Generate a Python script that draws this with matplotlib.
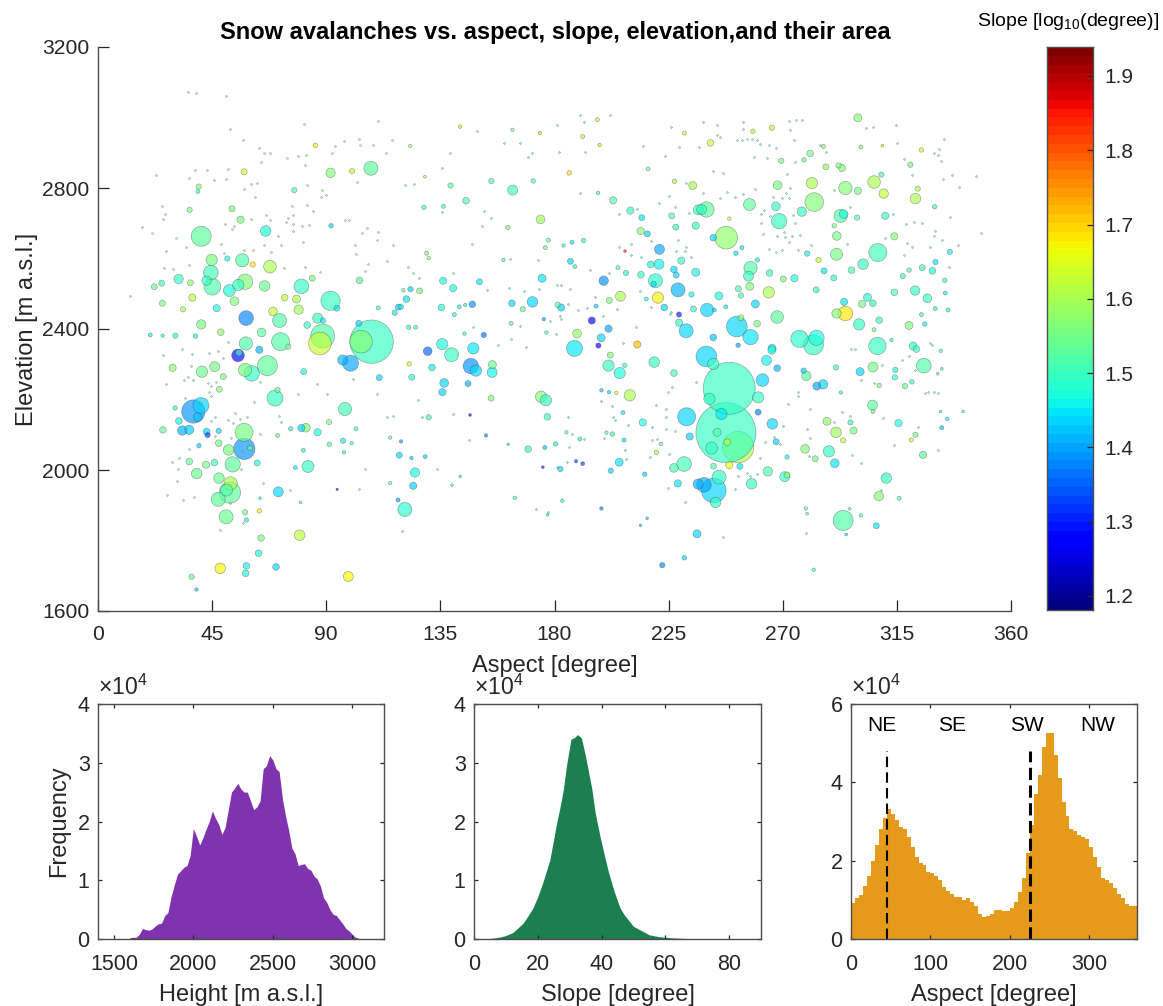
import numpy as np
import matplotlib
matplotlib.use('Agg')
import matplotlib.pyplot as plt

plt.rcParams['font.family'] = ['Liberation Sans', 'DejaVu Sans']
plt.rcParams['mathtext.fontset'] = 'custom'
plt.rcParams['mathtext.rm'] = 'Liberation Sans'
plt.rcParams['mathtext.default'] = 'regular'

# bubbles, aspect [deg], elevation [m], log10 slope, area (arbitrary units)
west_top_aspect = [40.7,107.6,91.7,66.1,80.2,67.8,56.9,44.8,44.5,42.8,
    45.1,58,55.3,51.8,65.7,31.8,91.7,58.4,71.6,79.1,
    69,53.8,40.7,72,88.6,87.5,107.9,103.7,86.6,58.3,
    64.5,82.5,78.3,84.5,103.1,57.6,85.7,100.2,36.1,52.8,
    56.2,39.7,39.4,77.4,91.9,61,51,46.8,37.2,25.4,
    22.2,25.1,36.4,33.5,73.6,48.4,94.2,88.7,118.4,117,
    110.5,102.8,30.5,20.6,25.5,38.4,75]
west_top_elev = [2663,2856,2843,2678,2521,2577,2595,2596,2560,2537,
    2520,2534,2525,2509,2522,2542,2480,2431,2424,2455,
    2450,2479,2413,2364,2380,2359,2364,2364,2431,2359,
    2390,2411,2485,2544,2538,2846,2921,2848,2738,2741,
    2710,2804,2790,2794,2693,2583,2600,2459,2489,2473,
    2520,2530,2531,2456,2489,2391,2459,2424,2462,2446,
    2460,2416,2381,2383,2381,2380,2350]
west_top_slope = [1.53,1.53,1.57,1.47,1.50,1.60,1.52,1.55,1.51,1.49,
    1.52,1.57,1.50,1.47,1.54,1.49,1.49,1.38,1.52,1.59,
    1.62,1.56,1.55,1.52,1.52,1.63,1.50,1.56,1.49,1.52,
    1.53,1.49,1.60,1.55,1.53,1.62,1.68,1.65,1.55,1.57,
    1.55,1.58,1.48,1.52,1.44,1.68,1.47,1.47,1.61,1.55,
    1.54,1.51,1.58,1.60,1.62,1.58,1.45,1.45,1.44,1.46,
    1.50,1.43,1.50,1.46,1.47,1.47,1.55]
west_top_area = [100,49,22,28,54,40,44,32,54,22,
    70,59,32,36,28,22,93,54,49,22,
    19,19,22,81,144,128,470,128,25,44,
    19,11,16,9,11,9,5,7,7,9,
    13,7,4,7,5,7,7,13,13,9,
    9,9,9,7,11,11,9,7,9,7,
    4,9,7,4,3,5,7]

west_low_aspect = [55.2,55.6,63.6,66.8,60.6,58,46,41,29.4,47.8,
    49.4,69.8,70.8,81.1,99.6,96.5,110.9,97.4,37.6,40.6,
    39.3,31.9,30.4,33.2,35.9,25.6,42.8,43.2,47.6,57.6,
    57.7,60,51.5,47.6,39.8,36,42.6,45.9,53.1,62.8,
    38.9,47.7,52.3,52,50.7,47.4,50.5,71.1,58,63.6,
    58.5,64.3,79.5,63.3,48.2,58.5,58.2,70.2,36.9,38.8,
    98.7,82.8,77.8,80.2,82,86.6,76,91.1,91.2,96.6,
    100,101.7,70.8,81,97,118.8,94.3,63.9,79.9,115.2,
    115.2,118.3]
west_low_elev = [2325,2333,2341,2296,2274,2284,2293,2279,2290,2229,
    2265,2204,2227,2279,2303,2312,2262,2173,2166,2183,
    2150,2139,2176,2112,2114,2114,2109,2099,2111,2107,
    2060,2062,2057,2076,2069,2024,2015,2021,2016,2020,
    1990,1977,1962,1936,1943,1917,1867,1938,1880,1884,
    1858,1807,1815,1764,1721,1728,1707,1725,1697,1661,
    1698,2010,2007,2119,2120,2107,2117,2136,2073,2083,
    2076,2117,2098,2056,2050,2042,1945,1920,1908,2092,
    1963,1915]
west_low_slope = [1.27,1.50,1.41,1.53,1.49,1.55,1.55,1.54,1.58,1.57,
    1.55,1.49,1.55,1.47,1.40,1.41,1.44,1.51,1.39,1.43,
    1.42,1.46,1.49,1.41,1.42,1.54,1.43,1.33,1.44,1.55,
    1.39,1.55,1.55,1.55,1.43,1.54,1.55,1.51,1.53,1.47,
    1.54,1.54,1.60,1.53,1.52,1.53,1.54,1.43,1.55,1.67,
    1.47,1.55,1.62,1.47,1.67,1.46,1.47,1.43,1.54,1.42,
    1.67,1.49,1.46,1.43,1.56,1.47,1.50,1.56,1.53,1.46,
    1.50,1.50,1.54,1.48,1.48,1.44,1.22,1.46,1.55,1.53,
    1.52,1.40]
west_low_area = [40,11,13,100,59,44,25,32,13,9,
    9,64,7,9,64,25,9,44,136,64,
    19,11,5,22,22,11,11,7,7,81,
    114,7,28,11,5,11,13,11,59,9,
    28,28,44,114,36,49,49,25,7,5,
    5,11,28,11,28,11,11,11,7,3,
    25,36,4,13,19,13,5,7,5,7,
    3,4,4,4,3,9,1.5,2,2,3,
    3,4]

mid_top_aspect = [228.7,231.9,220.8,206,219.8,219.1,199.4,221.2,221.4,171.3,
    175.1,136.1,140,150.4,147.6,163.2,135.4,121.6,119.4,126.8,
    182.6,181.2,167.5,163.5,174.5,145.1,203.1,155.1,171.6,139,
    128.5,136.2,161.6,209.9,214.4,214,216.6,185.8,216.9,234.5,
    227.3,236.7,226.2,227.8,235.7,230,235.7,217.9,214.1,227.1,
    228,186.3,188,208.2,194.7,201.3,229.1,223.3,234,188.9,
    198.4,212.6,197.3,187.9,229.1,234.8,207.8,205,201.6,196.4,
    216.2,152.1,144.5,162.9,122.5,125.2,176.8,175.8,142.8,163.4,
    174.2,196.9,191.1,197.8,123.1,231.2,128.9,197.2,191.5,186.9,
    177.6,176.4,183.6,129.6,130.4,159.9,123.2,120.4,142.4,140.5,
    144.8]
mid_top_elev = [2511,2395,2489,2493,2537,2528,2537,2584,2626,2477,
    2544,2537,2516,2534,2470,2473,2461,2485,2463,2508,
    2461,2469,2456,2794,2711,2764,2765,2820,2820,2807,
    2745,2748,2688,2736,2716,2678,2670,2843,2854,2807,
    2819,2738,2721,2689,2693,2594,2561,2583,2554,2569,
    2553,2592,2577,2559,2424,2401,2441,2461,2498,2387,
    2375,2356,2353,2345,2418,2457,2621,2574,2481,2465,
    2485,2383,2387,2416,2405,2405,2390,2428,2974,2965,
    2956,2994,2946,2922,2919,2956,2832,2786,2651,2646,
    2652,2631,2637,2615,2601,2596,2513,2510,2463,2441,
    2468]
mid_top_slope = [1.41,1.44,1.67,1.60,1.48,1.44,1.39,1.46,1.40,1.44,
    1.45,1.47,1.47,1.45,1.39,1.43,1.47,1.45,1.45,1.55,
    1.43,1.53,1.54,1.51,1.59,1.52,1.52,1.52,1.52,1.53,
    1.50,1.50,1.55,1.50,1.45,1.57,1.43,1.69,1.55,1.60,
    1.60,1.50,1.53,1.49,1.50,1.50,1.46,1.47,1.50,1.44,
    1.44,1.44,1.49,1.48,1.27,1.40,1.30,1.43,1.46,1.58,
    1.44,1.72,1.27,1.45,1.50,1.50,1.85,1.52,1.57,1.44,
    1.47,1.37,1.48,1.55,1.48,1.50,1.50,1.40,1.68,1.55,
    1.70,1.60,1.63,1.68,1.58,1.62,1.60,1.50,1.50,1.45,
    1.53,1.55,1.50,1.55,1.55,1.53,1.44,1.53,1.47,1.47,
    1.50]
mid_top_area = [49,49,32,25,49,7,22,25,25,28,
    16,13,13,9,11,11,11,11,7,9,
    13,7,7,25,19,11,13,7,5,7,
    5,4,5,13,9,13,9,5,4,16,
    5,25,9,9,13,13,16,11,11,11,
    9,9,4,7,13,13,7,11,7,19,
    16,13,7,64,13,9,2,4,9,4,
    4,7,3,4,5,4,3,3,3,3,
    3,4,4,3,3,4,2,3,5,4,
    4,4,3,4,3,3,7,3,4,4,
    3]

mid_low_aspect = [147,149,148,139.4,135.7,130,131.7,136.5,135.8,155.5,
    155.4,145.9,155,123.7,122.7,130.4,174.7,176.6,177.2,169.6,
    121,125,124.3,129,123.6,201.3,205.7,219.3,209.7,202,
    207.7,227.1,198.5,201.5,204.4,207,214.8,232.1,233.3,231.1,
    227.1,205.5,202.2,215.6,228.6,236.6,236.2,222.5,231.2,198.5,
    216.5,213.9,177.3,183.1,164.3,139.6,142.8,182.3,176.2,180.4,
    191.1,188.5,175.4,153,146.7,161.7,202.8,200.5,190,184.7,
    220.2,221.9,207.4,119.5]
mid_low_elev = [2295,2282,2345,2327,2357,2337,2291,2247,2221,2299,
    2277,2245,2204,2263,2301,2150,2208,2198,2151,2059,
    1888,1993,1955,2038,2034,2296,2275,2306,2212,2326,
    2297,2275,2226,2221,2219,2163,2135,2151,2095,2017,
    2006,2022,1998,1988,1962,1960,1819,1730,1751,1891,
    1863,1843,1873,1913,1921,1957,1982,2003,2064,2074,
    2018,2025,2008,2098,2156,2073,2102,2106,2088,2107,
    2050,2074,2085,2081]
mid_low_slope = [1.39,1.44,1.45,1.49,1.47,1.35,1.46,1.44,1.44,1.54,
    1.46,1.41,1.56,1.48,1.65,1.51,1.56,1.50,1.49,1.49,
    1.48,1.47,1.43,1.44,1.44,1.50,1.47,1.50,1.60,1.57,
    1.50,1.49,1.42,1.44,1.62,1.46,1.47,1.44,1.43,1.51,
    1.51,1.45,1.43,1.43,1.45,1.41,1.44,1.38,1.43,1.38,
    1.43,1.40,1.47,1.48,1.50,1.52,1.45,1.44,1.42,1.47,
    1.33,1.33,1.30,1.39,1.27,1.44,1.49,1.52,1.48,1.52,
    1.60,1.54,1.44,1.40]
mid_low_area = [59,32,32,49,32,19,11,19,13,16,
    25,9,9,9,5,7,32,32,11,11,
    49,22,13,4,3,32,32,28,32,9,
    5,11,3,3,3,4,13,81,13,54,
    19,16,7,5,13,25,16,7,5,3,
    2,1.5,2,3,3,2,1.5,7,4,5,
    4,3,2,3,2,1.5,5,3,4,3,
    5,3,4,3]

east_top_aspect = [247.7,239.9,238,282.4,268.6,256.9,268,281.5,267.3,277.5,
    292.8,294,294.7,306,299.6,309.8,322.3,307.5,291.2,301.7,
    291.3,314,310.4,299.6,287,293.3,292,280.8,278.4,269.4,
    265.7,258.2,241.5,286,300.8,320.3,323.2,308.9,324.7,309.3,
    257.3,256.5,257,264.5,264.8,259.2,240.2,244.8,251.9,257.3,
    267.8,259.9,276.6,283.3,282.1,294.7,291.2,300.1,294.2,308,
    319.8,307.3,322.2,327,303.4,305.5,301.3,314,274.6,283.2,
    270.2,286.3,290.1,297.1,284.1,279.6,335.9,330.2,325,329,
    333.9,317.3,319.8,334.1,329.9,299.3,290.3,248.9,242.6,251.5,
    253.9,260,252.5,253.5,243,247.5,253.5,242.6,252.4,265.8,
    335.2,330.1,324.7,326,321.4,312.9,306]
east_top_elev = [2659,2739,2739,2760,2706,2753,2808,2814,2748,2733,
    2721,2726,2800,2817,2792,2784,2770,2617,2612,2584,
    2664,2663,2721,2999,2860,2857,2864,2898,2880,2877,
    2971,2961,2928,2918,2916,2866,2798,2838,2908,2920,
    2573,2550,2521,2504,2559,2471,2454,2494,2407,2377,
    2434,2415,2372,2375,2355,2444,2444,2413,2477,2425,
    2410,2352,2509,2487,2490,2473,2471,2504,2544,2511,
    2542,2565,2545,2567,2596,2614,2619,2590,2574,2565,
    2538,2550,2567,2502,2747,2716,2693,2713,2659,2615,
    2631,2596,2514,2495,2454,2463,2432,2376,2354,2345,
    2454,2458,2441,2414,2352,2369,2398]
east_top_slope = [1.58,1.53,1.50,1.56,1.50,1.53,1.55,1.60,1.50,1.49,
    1.52,1.47,1.56,1.60,1.55,1.62,1.60,1.51,1.55,1.50,
    1.55,1.56,1.50,1.56,1.58,1.57,1.56,1.55,1.55,1.55,
    1.62,1.62,1.62,1.58,1.55,1.55,1.60,1.52,1.63,1.68,
    1.52,1.49,1.56,1.60,1.50,1.44,1.43,1.47,1.44,1.45,
    1.53,1.55,1.48,1.47,1.49,1.68,1.56,1.50,1.45,1.50,
    1.57,1.50,1.49,1.50,1.48,1.50,1.55,1.52,1.47,1.50,
    1.56,1.45,1.48,1.52,1.63,1.46,1.46,1.45,1.49,1.47,
    1.49,1.50,1.52,1.46,1.50,1.52,1.55,1.62,1.44,1.45,
    1.45,1.47,1.52,1.52,1.44,1.45,1.57,1.42,1.40,1.45,
    1.47,1.48,1.50,1.46,1.48,1.47,1.55]
east_top_area = [128,59,25,87,59,36,19,32,19,22,
    44,19,44,40,13,22,28,81,36,28,
    19,13,13,16,9,13,7,11,5,7,
    7,5,11,4,4,7,7,7,5,2,
    44,25,16,32,11,16,44,16,107,59,
    40,11,75,59,100,54,22,32,13,11,
    16,75,22,19,16,11,13,11,13,9,
    9,9,9,11,7,7,7,7,9,11,
    5,7,5,4,5,7,5,3,11,5,
    4,5,9,7,4,4,9,11,5,16,
    4,4,4,5,16,3,4]

east_low_aspect = [248.9,247.6,252.4,241.9,245.8,244.1,248.1,241.1,260.3,262,
    242.6,239.9,263.6,265.7,267.8,260.3,265.9,267.4,279.3,278.2,
    285.9,283.4,292.9,291,300.5,305.6,325.6,322.7,314.2,314.4,
    318.2,320.9,308,305.4,305.6,315.6,296.7,287.4,291,297.9,
    293.8,278.8,288.2,282.8,290.5,271.7,264.1,270.8,271.7,257.7,
    244.9,242.8,238.9,243.5,253.1,248.9,242.7,325.3,310.8,307.9,
    293.8,306.9,315.9,322.3,320.7,332.7,334.9,341.1,332.2,282.2,
    295,300.8,279.1,279.6,296.4,332.3,332.7,331.1]
east_low_elev = [2232,2106,2065,2062,2159,2107,2079,2202,2206,2255,
    2301,2322,2311,2340,2289,2164,2131,2080,2267,2282,
    2243,2238,2220,2291,2279,2292,2296,2343,2263,2284,
    2238,2250,2240,2184,2166,2133,2135,2138,2107,2112,
    2084,2060,2053,2032,2019,2037,1996,1981,1986,1961,
    1980,1942,1958,1908,2010,2014,2011,2043,1977,1926,
    1857,1842,1920,2100,2085,2120,2145,2166,2166,1717,
    1817,1871,1891,1876,1890,2338,2287,2273]
east_low_slope = [1.50,1.50,1.60,1.50,1.45,1.52,1.62,1.50,1.49,1.44,
    1.50,1.43,1.46,1.47,1.41,1.38,1.43,1.44,1.53,1.44,
    1.44,1.40,1.47,1.50,1.43,1.55,1.52,1.50,1.48,1.47,
    1.54,1.50,1.55,1.53,1.54,1.47,1.49,1.58,1.59,1.55,
    1.62,1.57,1.50,1.55,1.45,1.47,1.52,1.49,1.56,1.50,
    1.50,1.44,1.40,1.50,1.45,1.66,1.52,1.53,1.49,1.57,
    1.52,1.45,1.52,1.55,1.62,1.42,1.46,1.50,1.50,1.48,
    1.43,1.50,1.54,1.53,1.55,1.52,1.50,1.52]
east_low_area = [676,900,245,36,32,16,11,32,32,40,
    32,107,25,16,11,9,28,9,22,7,
    22,16,3,7,16,25,54,11,7,7,
    7,5,5,25,4,13,7,16,28,13,
    7,19,32,9,19,5,22,25,9,28,
    49,152,54,28,9,13,9,13,28,22,
    100,9,4,7,4,4,3,2,2,3,
    2,3,3,2,2,3,2,2]

# very small bubbles, one typical slope per part of the chart
tiny_slope = [1.57, 1.54, 1.50, 1.48, 1.53, 1.52]
tiny_aspect = [
    [38.8,50.5,35.4,81.3,110.4,52,57.2,63.5,65.3,67.7,64.4,79,81.9,74.6,92.3,93.3,97,102.8,103.3,108.4,
     115.8,113.5,38.1,42.8,51.4,35.7,45.6,50.3,22.7,57.7,60.5,62.7,61.9,88.2,82.5,88,89.8,102.1,81.6,76.6,
     82.4,84.9,66.2,25.5,26.3,25.4,17.2,21.2,30.8,34.8,27,50.1,52.7,53.8,60.2,68,74.8,77,74.2,76.9,
     80.3,83.2,97.4,99,104,106.2,110.2,110.5,101.3,116.3,80.7,77,71.1,72.3,68.3,61.2,57.4,49.8,48.5,65.4,
     101.6,106.3,113.8,105.3,87.5,81.6,73.3,36,29.7,26.1,12.6],
    [25.8,33,37,43.8,47.4,49.4,51.4,36.5,35.4,37.3,34,26.8,43.5,46.5,44.4,43.8,44.5,34.2,40.2,53.9,
     58.9,56,51.4,53.2,46.1,44.5,63.9,46.1,52.3,56.8,35.7,32.1,29.2,31.5,31,27.2,33.5,37.8,56.4,65,
     75.7,52.2,57.3,48.1,72,71.4,78.7,90.4,86.2,61.5,63.9,100.6,110.1,114,116.4,105.2,102.8],
    [149.5,160,166.3,138.7,135.6,121.2,124.7,169.5,171.2,181.8,192.2,190,214.9,223.6,228.9,236.9,226.1,191.7,190.1,202,
     181,155,152.2,151.5,147.5,135.6,205.6,221.2,227.4,225.2,233.1,232,212.6,218.2,228.7,210.1,205.6,210.3,214.3,228.1,
     231.7,234,231.6,173.5,162.5,124.4,139.9,126.6,122.3,162,167.9,153.2,180.8,182.5,186.1,173.8,193.9,201.4,196,185.4,
     189.3,193,182.2,182.7,178.1,199,166.2,148,204.7,213.6,218.1,226.1,225.7,212,207,180.6,157.8,168.7,163],
    [126.1,139.8,146.3,133.5,127.7,172.6,177.3,119.9,184.8,181,185.8,187,185.4,191.7,199.4,198.2,202.7,203.1,203.8,209.1,
     218.3,220.3,217.8,218.6,224.1,227.4,223.9,224.1,219.9,224.8,226.4,235.6,231.6,224.9,207.8,208,225],
    [238.4,244.1,254.4,254.5,272.4,275.1,277.6,273,244,245.4,252,254.1,255.8,257.8,259.9,261.2,264.6,267.4,274.5,284.7,
     287.1,303,305.4,314.8,315.1,333.6,331.6,329.7,331.3,332.4,318,321,336.8,346.2,339.5,333.1,258.6,263.7,274.9,271.7,
     242.6,246.5,290.3,259.2,248,251,254.5,245.2,238.6,266.2,269.9,271.2,272.8,272.4,262.5,261.5,261.3,265,275,274.2,
     262.3,267.7,270.5,270.8,273.8,276.7,281.2,272.4,264.6,267.3,269.9,276.2,296.7,313.5,318.5,321.8,325.1,335.8,329.9,329.5,
     332.8,328,319,320.9,310.2,295.4,348.1,339.1,317.7,335.6],
    [276.2,276.1,271.9,280.7,279.6,280.9,280.4,297.2,301,293.4,309.7,323.2,313.8,331.1,308.8,279.3,246.5,252.4,251.2,256.1,
     257,259.9,263,261.2,269.1,266.7,270,300.8,305.9,326.1,327.2,329.7,331.3,317,319.8,328,329,298.4,296.8,309.3,
     322.3,296.6,290.4],
]
tiny_elev = [
    [3070,3062,3073,2981,2991,2966,2935,2913,2899,2900,2874,2890,2894,2884,2898,2919,2934,2938,2921,2921,
     2935,2898,2850,2850,2853,2829,2824,2826,2837,2796,2811,2813,2774,2794,2808,2775,2779,2816,2865,2749,
     2752,2736,2722,2711,2725,2749,2688,2671,2657,2634,2621,2698,2684,2693,2711,2709,2716,2724,2704,2698,
     2691,2695,2709,2709,2672,2686,2653,2676,2638,2637,2648,2678,2665,2637,2618,2625,2624,2617,2641,2639,
     2613,2585,2593,2564,2563,2577,2572,2582,2569,2573,2494],
    [2326,2343,2329,2333,2339,2317,2364,2295,2265,2256,2256,2243,2248,2249,2237,2222,2211,2205,2189,2162,
     2150,2146,2142,2134,2150,2140,2101,2097,2090,2055,2059,2033,2023,2002,1969,1930,1914,1924,2002,1962,
     1943,1906,1851,1829,2137,2154,2216,2215,2244,2192,2251,2258,2215,2150,2154,2002,1945],
    [2961,2929,2927,2898,2858,2808,2810,2889,2898,2902,2903,2785,2920,2891,2917,2917,2972,2986,3006,3007,
     2979,2716,2736,2691,2642,2733,2725,2758,2747,2778,2728,2815,2741,2650,2652,2640,2634,2610,2603,2621,
     2634,2603,2620,2596,2599,2560,2558,2546,2577,2516,2509,2511,2525,2524,2513,2513,2568,2558,2492,2471,
     2454,2460,2437,2427,2424,2437,2409,2407,2458,2507,2463,2449,2442,2405,2361,2386,2354,2348,2371],
    [2198,2158,2085,2004,2149,1889,1882,1828,2024,2009,2064,2101,2151,2089,2090,2197,2182,2151,2142,2127,
     2085,2089,2038,2121,2116,2112,2151,2173,2185,2221,2235,2250,1910,1948,2057,2031,2046],
    [2988,2979,2988,2967,2990,2992,2994,2965,2950,2945,2936,2936,2939,2938,2937,2926,2922,2914,2937,2922,
     2902,2970,2974,2978,2928,2939,2911,2899,2894,2878,2882,2838,2837,2833,2803,2826,2889,2886,2875,2839,
     2849,2843,2794,2796,2788,2775,2782,2772,2785,2775,2773,2786,2799,2773,2739,2725,2702,2721,2700,2723,
     2669,2665,2675,2662,2665,2666,2638,2648,2626,2619,2624,2624,2747,2725,2698,2703,2702,2719,2678,2665,
     2652,2632,2645,2632,2657,2642,2673,2637,2610,2577],
    [2221,2211,2187,2172,2116,2092,2040,2042,2021,2165,2147,2123,2071,2058,1944,1821,1809,1984,1946,1991,
     1983,1989,2080,2034,2074,2095,2124,2256,2248,2218,2221,2221,2219,2312,2324,2361,2354,2343,2344,2298,
     2284,2152,2136],
]

# histograms, counts in units of 1e4
height_bins = np.arange(1600, 3080, 20)
height_counts = [.02,.03,.03,.08,.18,.16,.15,.17,.22,.26,.27,.40,.45,.72,.92,1.10,1.16,1.22,1.25,1.42,
    1.88,1.75,1.60,1.72,1.87,2.0,2.18,2.05,1.95,1.78,1.9,2.2,2.5,2.57,2.65,2.55,2.5,2.5,2.35,2.2,
    2.25,2.35,2.9,2.95,3.12,3.05,2.9,2.85,2.4,2.1,1.85,1.55,1.45,1.25,1.27,1.28,1.2,1.17,1.07,1.02,
    .9,.7,.62,.5,.42,.4,.33,.26,.18,.14,.08,.03,.01,.005]
slope_deg = [4,6,8,10,12.2,15.4,17,18.5,20,21.7,23.8,25.9,27,28,29,30.4,31.5,32.5,33.7,35,
    36.9,38,39.5,41,42.1,44,45.8,47,50,55,58,62,66,69]
slope_counts = [.004,.015,.03,.06,.11,.27,.40,.53,.72,.98,1.35,1.97,2.25,2.54,2.95,3.40,3.43,3.48,3.42,3.1,
    2.57,2.15,1.75,1.4,1.15,.8,.53,.42,.215,.07,.04,.02,.01,.003]
aspect_edges = np.arange(0, 365, 5)
aspect_counts = [.92,1.05,1.12,1.35,1.6,2.0,2.4,2.8,3.1,3.33,3.2,3.05,2.85,2.8,2.6,2.35,2.1,1.95,1.9,1.72,
    1.68,1.62,1.5,1.32,1.22,1.15,1.08,1.07,1.0,1.05,.95,.85,.65,.57,.58,.63,.75,.74,.72,.72,
    .8,.95,1.2,1.55,2.2,2.9,3.7,4.2,4.9,5.25,5.25,4.7,4.1,3.5,3.15,2.8,2.75,2.65,2.6,2.55,
    2.35,2.1,1.85,1.55,1.5,1.42,1.3,1.15,1.05,.9,.85,.85]
sector_names = ['NE', 'SE', 'SW', 'NW']
sector_pos = [39, 127.6, 221, 311]

W, H = 1163, 1006
DARK = '#262626'
SLOPE_MIN, SLOPE_MAX = 1.181, 1.939
BUBBLE = 2.0736  # squared pixel radius to points^2


def axes_px(fig, left, top, right, bottom):
    return fig.add_axes([left / W, 1 - bottom / H, (right - left) / W, (bottom - top) / H])


def style(ax, size, length, xpad=8):
    ax.tick_params(direction='in', length=length, width=0.9, labelsize=size, colors=DARK)
    ax.tick_params(axis='x', pad=xpad)
    ax.tick_params(axis='y', pad=6)
    for s in ax.spines.values():
        s.set_color('#4d4d4d')
        s.set_linewidth(1.0)


fig = plt.figure(figsize=(W / 100, H / 100), dpi=100)
jet = plt.get_cmap('jet', 64)
norm = plt.Normalize(SLOPE_MIN, SLOPE_MAX)

# main bubble chart
ax = axes_px(fig, 98, 47, 1011, 611)
aspect = np.array(west_top_aspect + west_low_aspect + mid_top_aspect + mid_low_aspect + east_top_aspect + east_low_aspect)
elev = np.array(west_top_elev + west_low_elev + mid_top_elev + mid_low_elev + east_top_elev + east_low_elev)
slope = np.array(west_top_slope + west_low_slope + mid_top_slope + mid_low_slope + east_top_slope + east_low_slope)
area = np.array(west_top_area + west_low_area + mid_top_area + mid_low_area + east_top_area + east_low_area)
order = np.argsort(area)[::-1]
# the lime one at 252 deg sits behind the two biggest
order = np.r_[order[area[order] == 245], order[area[order] != 245]]

rgba = jet(norm(slope[order]))
rgba[:, 3] = 0.66
ax.scatter(aspect[order], elev[order], s=area[order] * BUBBLE, c=rgba,
           edgecolors=(0.25, 0.25, 0.25, 0.45), linewidths=0.5, clip_on=False, zorder=2)
for a, e, sl in zip(tiny_aspect, tiny_elev, tiny_slope):
    col = jet(norm(sl))
    ax.scatter(a, e, s=1.6, color=col[:3], alpha=0.7, edgecolors=(0.3, 0.3, 0.3, 0.6),
               linewidths=0.3, zorder=3)

ax.set_xlim(0, 360)
ax.set_ylim(1600, 3200)
ax.set_xticks(range(0, 361, 45))
ax.set_yticks(range(1600, 3201, 400))
style(ax, 15.2, 8, xpad=10)
ax.spines['top'].set_visible(False)
ax.spines['right'].set_visible(False)
ax.set_xlabel('Aspect [degree]', fontsize=17, color=DARK, labelpad=8)
ax.set_ylabel('Elevation [m a.s.l.]', fontsize=17, color=DARK, labelpad=3)
fig.text(555 / W, 1 - 33 / H, 'Snow avalanches vs. aspect, slope, elevation,and their area',
         fontsize=17, fontweight='bold', ha='center', va='center', color='black')

# colour bar
cax = axes_px(fig, 1047, 47, 1093, 610)
levels = np.linspace(SLOPE_MIN, SLOPE_MAX, 65)
cax.pcolormesh([0, 1], levels, ((levels[:-1] + levels[1:]) / 2)[:, None], cmap=jet, norm=norm)
cax.set_xticks([])
cax.yaxis.tick_right()
cax.set_yticks(np.round(np.arange(1.2, 1.95, 0.1), 1))
style(cax, 15, 4)
cax.tick_params(axis='y', right=True, left=False, pad=8)
fig.text(1068 / W, 1 - 22 / H, 'Slope [log$_{10}$(degree)]', fontsize=14, ha='center', va='center',
         color='black')

# histograms
ax1 = axes_px(fig, 98, 704, 384, 939)
ax1.fill_between(height_bins, height_counts, 0, color='#7F33AF', linewidth=0)
ax1.set_xlim(1400, 3200)
ax1.set_ylim(0, 4)
ax1.set_xticks([1500, 2000, 2500, 3000])
ax1.set_yticks(range(5))
style(ax1, 15.5, 3, xpad=11)
ax1.tick_params(top=True, right=True)
ax1.set_xlabel('Height [m a.s.l.]', fontsize=17, color=DARK, labelpad=6)
ax1.set_ylabel('Frequency', fontsize=17, color=DARK, labelpad=5)

ax2 = axes_px(fig, 474, 704, 761, 939)
ax2.fill_between(slope_deg, slope_counts, 0, color='#1B7F4F', linewidth=0)
ax2.set_xlim(0, 90)
ax2.set_ylim(0, 4)
ax2.set_xticks([0, 20, 40, 60, 80])
ax2.set_yticks(range(5))
style(ax2, 15.5, 3, xpad=11)
ax2.tick_params(top=True, right=True)
ax2.set_xlabel('Slope [degree]', fontsize=17, color=DARK, labelpad=6)

ax3 = axes_px(fig, 851, 704, 1137, 939)
ax3.stairs(aspect_counts, aspect_edges, fill=True, color='#E69A1B', linewidth=0)
ax3.plot([45, 45], [0, 4.8], color='black', linewidth=1.5, dashes=(5, 2.5))
ax3.plot([225, 225], [0, 4.8], color='black', linewidth=2.2, dashes=(4, 1.8))
for name, pos in zip(sector_names, sector_pos):
    ax3.text(pos, 5.46, name, fontsize=15, ha='center', va='center', color='black')
ax3.set_xlim(0, 360)
ax3.set_ylim(0, 6)
ax3.set_xticks([0, 100, 200, 300])
ax3.set_yticks([0, 2, 4, 6])
style(ax3, 15.5, 3, xpad=11)
ax3.tick_params(top=True, right=True)
ax3.set_xlabel('Aspect [degree]', fontsize=17, color=DARK, labelpad=6)

for a in (ax1, ax2, ax3):
    pos = a.get_position()
    fig.text(pos.x0, pos.y1 + 0.004, r'$\times 10^4$', fontsize=16.5, color=DARK, ha='left', va='bottom')

fig.savefig('out.png', dpi=100)
